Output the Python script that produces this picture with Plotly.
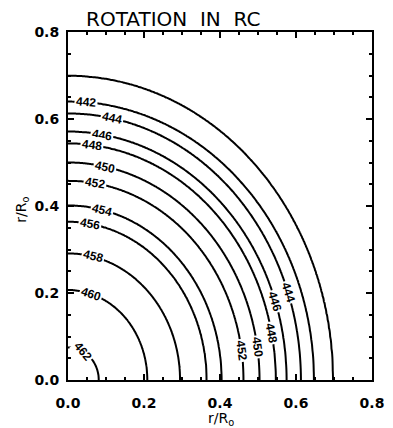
import numpy as np
import plotly.graph_objects as go

# ---- data ----
levels = [462, 460, 458, 456, 454, 452, 450, 448, 446, 444, 442, 440]
radius_equator = [0.081, 0.209, 0.295, 0.365, 0.404, 0.462, 0.504, 0.547, 0.575, 0.613, 0.647, 0.697]
radius_pole = [0.075, 0.207, 0.291, 0.364, 0.401, 0.458, 0.500, 0.544, 0.571, 0.613, 0.640, 0.699]
core_value = 463.0
outer_value = 430.0

# contour labels: (level, polar angle in degrees where the label sits)
labels_left = [(442, 85.8), (444, 79.1), (446, 81.1), (448, 83.4), (450, 78.9),
               (452, 81.2), (454, 77.2), (456, 80.7), (458, 77.2), (460, 73.1), (462, 60.0)]
labels_bottom = [(452, 8.6), (450, 8.6), (448, 11.5), (446, 18.3), (444, 19.2)]

tick_vals = [0.0, 0.2, 0.4, 0.6, 0.8]
tick_text = ["0.0", "0.2", "0.4", "0.6", "0.8"]

# ---- build the grid of rotation values ----
xs = np.linspace(0, 0.8, 241)
X, Y = np.meshgrid(xs, xs)
r = np.hypot(X, Y).ravel()
th = np.arctan2(Y, X).ravel()
s2 = np.sin(th) ** 2
R = np.array(radius_equator)[None, :] * (1 - s2)[:, None] + np.array(radius_pole)[None, :] * s2[:, None]
R = np.concatenate([np.zeros((len(r), 1)), R, np.full((len(r), 1), 1.3)], axis=1)
V = np.array([core_value] + levels + [outer_value], dtype=float)
k = np.clip((R <= r[:, None]).sum(1) - 1, 0, R.shape[1] - 2)
idx = np.arange(len(r))
r0 = R[idx, k]
r1 = R[idx, k + 1]
Z = (V[k] + (V[k + 1] - V[k]) * (r - r0) / (r1 - r0)).reshape(X.shape)

fig = go.Figure()
fig.add_trace(go.Contour(
    x=xs, y=xs, z=Z,
    contours=dict(start=440, end=462, size=2, coloring="lines", showlabels=False),
    line=dict(width=2),
    colorscale=[[0, "black"], [1, "black"]],
    showscale=False, hoverinfo="skip",
))

L, T, PW, PH = 68, 32, 316, 348
sx, sy = PW / 0.8, PH / 0.8


def level_radius(lev, phi):
    i = levels.index(lev)
    c2 = np.cos(phi) ** 2
    return radius_equator[i] * c2 + radius_pole[i] * (1 - c2)


annotations = []
for lev, ang in labels_left + labels_bottom:
    phi = np.radians(ang)
    rr = level_radius(lev, phi)
    px, py = rr * np.cos(phi), rr * np.sin(phi)
    tangle = np.degrees(np.arctan2(np.cos(phi) * sy, np.sin(phi) * sx))
    if lev == 462 and ang < 70:
        tangle = 50.0
    annotations.append(dict(
        x=px, y=py, xref="x", yref="y", text=str(lev), showarrow=False,
        textangle=float(tangle), bgcolor="white", borderpad=1,
        font=dict(family="Liberation Sans", size=12, color="black", weight="bold"),
    ))

annotations.append(dict(
    x=(85 - L) / PW, y=(T + PH - 18.5) / PH, xref="paper", yref="paper",
    xanchor="left", yanchor="middle", showarrow=False,
    text="ROTATION\u00a0\u00a0IN\u00a0\u00a0RC",
    font=dict(family="DejaVu Sans", size=20, color="black"),
))
annotations.append(dict(
    x=(227 - L) / PW, y=(T + PH - 419) / PH, xref="paper", yref="paper",
    xanchor="center", yanchor="middle", showarrow=False,
    text="r/R<sub>o</sub>",
    font=dict(family="DejaVu Sans", size=14, color="black"),
))
annotations.append(dict(
    x=(20 - L) / PW, y=(T + PH - 210) / PH, xref="paper", yref="paper",
    xanchor="center", yanchor="middle", showarrow=False, textangle=-90,
    text="r/R<sub>o</sub>",
    font=dict(family="DejaVu Sans", size=14, color="black"),
))

axis_common = dict(
    range=[0, 0.8], tickvals=tick_vals, ticktext=tick_text,
    ticks="inside", ticklen=6, tickwidth=2, tickcolor="black",
    minor=dict(dtick=0.05, ticks="inside", ticklen=3, tickwidth=2, tickcolor="black"),
    showline=True, linewidth=2, linecolor="black", mirror="allticks",
    showgrid=False, zeroline=False, fixedrange=True, ticklabeloverflow="allow",
    tickfont=dict(family="DejaVu Sans", size=14, color="black", weight="bold"),
)

fig.update_layout(
    width=393, height=428,
    margin=dict(l=L, r=393 - L - PW, t=T, b=428 - T - PH),
    paper_bgcolor="white", plot_bgcolor="white",
    xaxis=dict(**axis_common, ticklabelstandoff=9),
    yaxis=dict(**axis_common, ticklabelstandoff=4),
    annotations=annotations,
    showlegend=False,
)

fig.write_html(
    "out.html",
    config={"displayModeBar": False},
    post_script="document.body.style.margin='0';document.body.style.overflow='hidden';",
)
